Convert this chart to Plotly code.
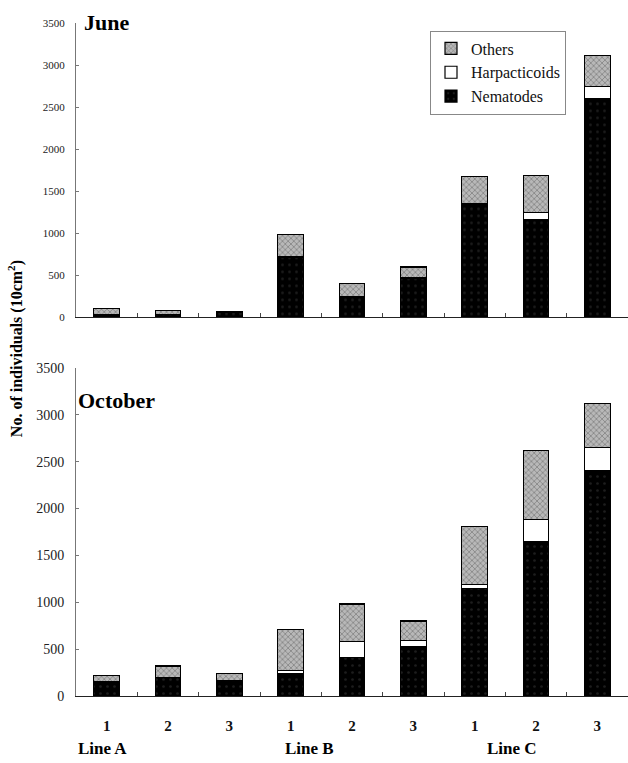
import plotly.graph_objects as go

# Sampling stations along three transect lines
sites = ["A1", "A2", "A3", "B1", "B2", "B3", "C1", "C2", "C3"]
site_labels = ["1", "2", "3", "1", "2", "3", "1", "2", "3"]

# Meiofauna densities, individuals per 10 cm^2
june_nematodes = [30, 40, 60, 720, 250, 470, 1360, 1160, 2600]
june_harpacticoids = [0, 0, 0, 0, 0, 0, 0, 90, 150]
june_others = [80, 45, 5, 270, 150, 130, 320, 440, 370]

oct_nematodes = [150, 195, 160, 240, 410, 530, 1150, 1650, 2400]
oct_harpacticoids = [0, 0, 0, 30, 170, 60, 40, 230, 250]
oct_others = [70, 125, 80, 440, 400, 210, 620, 740, 470]

line_groups = ["Line A", "Line B", "Line C"]

SERIF = "Liberation Serif"
W, H = 628, 763
L = 76

styles = {
    "Nematodes": dict(color="#000000",
                      pattern=dict(shape=".", fgcolor="#3a3a3a", size=7, solidity=0.12, fillmode="overlay")),
    "Harpacticoids": dict(color="#ffffff"),
    "Others": dict(color="#b8b8b8",
                   pattern=dict(shape="x", fgcolor="#4a4a4a", size=4, solidity=0.35, fillmode="overlay")),
}

fig = go.Figure()


def add_panel(nem, harp, oth, xa, ya, show):
    for name, vals in (("Nematodes", nem), ("Harpacticoids", harp), ("Others", oth)):
        st = styles[name]
        fig.add_trace(go.Bar(
            x=sites, y=vals, name=name, xaxis=xa, yaxis=ya,
            width=0.42, showlegend=show, legendgroup=name,
            marker=dict(color=st["color"], pattern=st.get("pattern"),
                        line=dict(color="#000000", width=1.2)),
        ))


add_panel(june_nematodes, june_harpacticoids, june_others, "x", "y", True)
add_panel(oct_nematodes, oct_harpacticoids, oct_others, "x2", "y2", False)

top_dom = [1 - 316.7 / H, 1 - 16.7 / H]
bot_dom = [1 - 702.7 / H, 1 - 368.3 / H]

xcommon = dict(type="category", categoryorder="array", categoryarray=sites,
               range=[-0.5, 8.5], showline=True, linecolor="#222", linewidth=1,
               ticks="inside", ticklen=4, tickcolor="#444", tickson="boundaries",
               showgrid=False, zeroline=False)

fig.update_layout(
    width=W, height=H,
    margin=dict(l=L, r=0, t=0, b=0),
    paper_bgcolor="white", plot_bgcolor="white",
    barmode="stack",
    font=dict(family=SERIF, color="#111"),
    xaxis=dict(**xcommon, domain=[0, 1], anchor="y", showticklabels=False),
    xaxis2=dict(**xcommon, domain=[0, 1], anchor="y2",
                tickmode="array", tickvals=sites, ticktext=site_labels,
                tickfont=dict(family=SERIF, size=15, color="#111", weight="bold"),
                ticklabelstandoff=16),
    yaxis=dict(domain=top_dom, range=[0, 3500], dtick=500, showline=True,
               linecolor="#777", linewidth=1, ticks="inside", ticklen=3,
               tickcolor="#777", showgrid=False, zeroline=False,
               tickfont=dict(family=SERIF, size=11, color="#222"),
               ticklabelstandoff=8),
    yaxis2=dict(domain=bot_dom, range=[0, 3500], dtick=500, showline=True,
                linecolor="#777", linewidth=1, ticks="inside", ticklen=3,
                tickcolor="#777", showgrid=False, zeroline=False,
                tickfont=dict(family=SERIF, size=14, color="#222"),
                ticklabelstandoff=8),
    legend=dict(x=(430 - L) / (W - L), y=1 - 24 / H, xanchor="left", yanchor="top",
                traceorder="reversed", bordercolor="#888", borderwidth=1,
                bgcolor="white", font=dict(family=SERIF, size=16, color="#111"),
                itemwidth=30, tracegroupgap=0),
)

ann = []
ann.append(dict(text="<b>June</b>", xref="paper", yref="paper",
                x=(82 - L) / (W - L), y=1 - 16 / H, xanchor="left", yanchor="middle",
                showarrow=False, font=dict(family=SERIF, size=22, color="#000")))
ann.append(dict(text="<b>October</b>", xref="paper", yref="paper",
                x=(76 - L) / (W - L), y=1 - 401 / H, xanchor="left", yanchor="middle",
                showarrow=False, font=dict(family=SERIF, size=22, color="#000")))
ann.append(dict(text="<b>No. of individuals (10cm<sup>2</sup>)</b>", xref="paper", yref="paper",
                x=(15 - L) / (W - L), y=1 - 349 / H, xanchor="center", yanchor="middle",
                textangle=-90, showarrow=False,
                font=dict(family=SERIF, size=16, color="#000")))
for label, px in zip(line_groups, [102, 309, 512]):
    ann.append(dict(text=f"<b>{label}</b>", xref="paper", yref="paper",
                    x=(px - L) / (W - L), y=1 - 756 / H, xanchor="center", yanchor="middle",
                    showarrow=False, font=dict(family=SERIF, size=17, color="#000")))
fig.update_layout(annotations=ann)

fig.write_html("out.html")
